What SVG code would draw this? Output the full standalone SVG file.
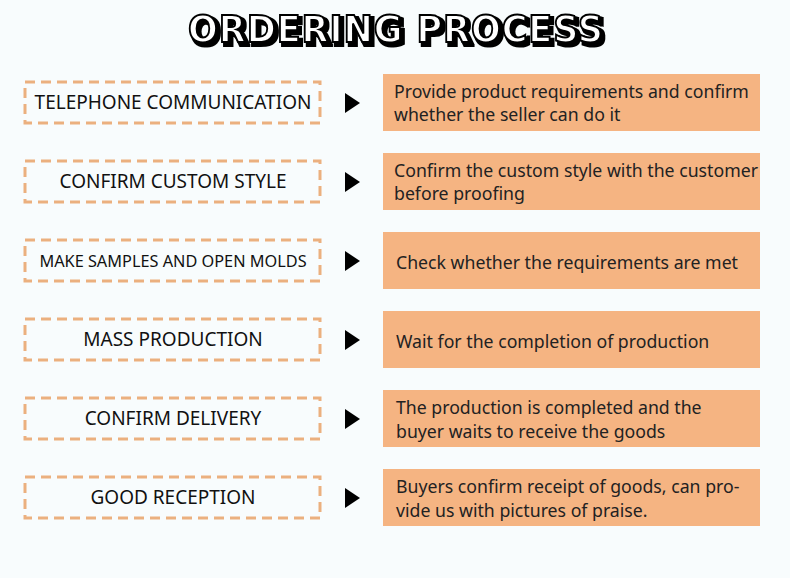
<svg xmlns="http://www.w3.org/2000/svg" width="790" height="578" viewBox="0 0 790 578">
<style>
.step rect{fill:none;stroke:#ebb07f;stroke-width:3;stroke-dasharray:10 6}
.step text{font-family:"Noto Sans","Open Sans",sans-serif;font-size:19px;fill:#111;text-anchor:middle}
.desc rect{fill:#f5b482}
.desc text{font-family:"Noto Sans","Open Sans",sans-serif;font-size:17.7px;fill:#222}
.arrow{fill:#000}
.title{font-family:"DejaVu Sans",sans-serif;font-weight:bold;font-size:38px;letter-spacing:1px}
</style>
<defs>
<filter id="shadow" x="-5%" y="-20%" width="110%" height="150%">
<feMorphology in="SourceAlpha" operator="dilate" radius="1" result="d"/>
<feOffset in="d" dx="3" dy="3" result="o"/>
<feFlood flood-color="#000"/>
<feComposite in2="o" operator="in" result="s"/>
<feMerge><feMergeNode in="s"/><feMergeNode in="SourceGraphic"/></feMerge>
</filter>
</defs>
<rect width="790" height="578" fill="#f8fcfd"/>
<g id="title">
<text class="title" x="188" y="42" textLength="416" lengthAdjust="spacingAndGlyphs" fill="#fff" stroke="#000" stroke-width="2" filter="url(#shadow)">ORDERING  PROCESS</text>
</g>
<g id="step1" class="step"><rect x="25" y="82" width="295" height="41"/><text x="173" y="109">TELEPHONE COMMUNICATION</text></g>
<g id="step2" class="step"><rect x="25" y="161" width="295" height="41"/><text x="173" y="188">CONFIRM CUSTOM STYLE</text></g>
<g id="step3" class="step"><rect x="25" y="240" width="295" height="41"/><text x="173" y="267" style="font-size:16.3px">MAKE SAMPLES AND OPEN MOLDS</text></g>
<g id="step4" class="step"><rect x="25" y="319" width="295" height="41"/><text x="173" y="346">MASS PRODUCTION</text></g>
<g id="step5" class="step"><rect x="25" y="398" width="295" height="41"/><text x="173" y="425">CONFIRM DELIVERY</text></g>
<g id="step6" class="step"><rect x="25" y="477" width="295" height="41"/><text x="173" y="504">GOOD RECEPTION</text></g>
<g id="connectors">
<polygon class="arrow" points="345,93 360,103 345,113"/>
<polygon class="arrow" points="345,172 360,182 345,192"/>
<polygon class="arrow" points="345,251 360,261 345,271"/>
<polygon class="arrow" points="345,330 360,340 345,350"/>
<polygon class="arrow" points="345,409 360,419 345,429"/>
<polygon class="arrow" points="345,488 360,498 345,508"/>
</g>
<g id="desc1" class="desc"><rect x="383" y="74" width="377" height="57"/><text x="394" y="98">Provide product requirements and confirm</text><text x="394" y="121">whether the seller can do it</text></g>
<g id="desc2" class="desc"><rect x="383" y="153" width="377" height="57"/><text x="394" y="177">Confirm the custom style with the customer</text><text x="394" y="200">before proofing</text></g>
<g id="desc3" class="desc"><rect x="383" y="232" width="377" height="57"/><text x="396" y="269">Check whether the requirements are met</text></g>
<g id="desc4" class="desc"><rect x="383" y="311" width="377" height="57"/><text x="396" y="348">Wait for the completion of production</text></g>
<g id="desc5" class="desc"><rect x="383" y="390" width="377" height="57"/><text x="396" y="414">The production is completed and the</text><text x="396" y="438">buyer waits to receive the goods</text></g>
<g id="desc6" class="desc"><rect x="383" y="469" width="377" height="57"/><text x="396" y="493">Buyers confirm receipt of goods, can pro-</text><text x="396" y="517">vide us with pictures of praise.</text></g>
</svg>
